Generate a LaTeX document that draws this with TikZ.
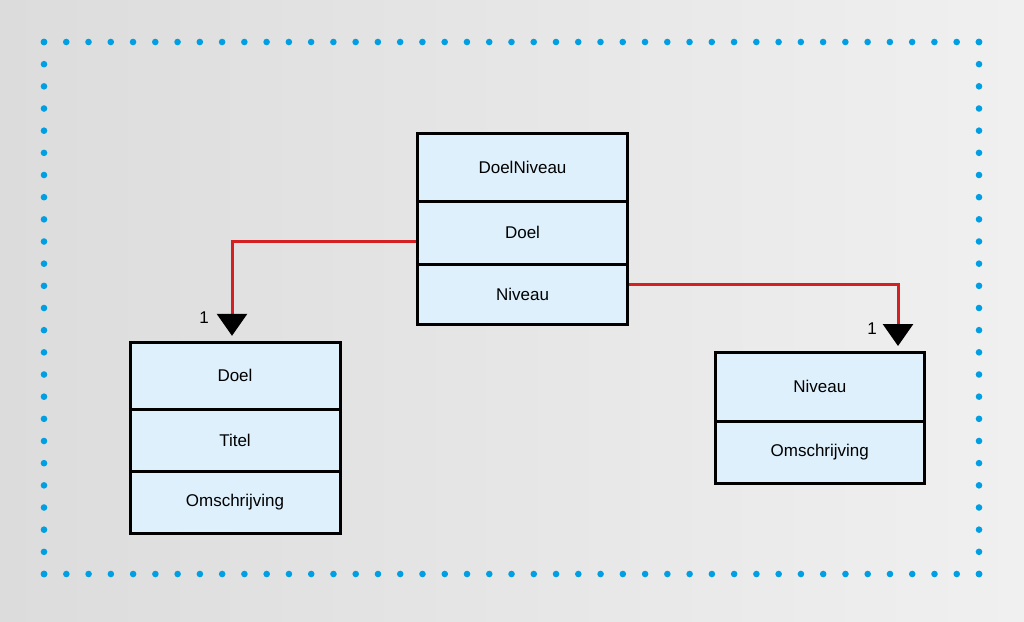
\documentclass[tikz,border=0pt]{standalone}
\usepackage{fontspec}
\setmainfont{Liberation Sans}
\usetikzlibrary{arrows.meta}
\definecolor{bgl}{RGB}{220,220,220}
\definecolor{bgr}{RGB}{240,240,240}
\definecolor{dotc}{RGB}{0,158,226}
\definecolor{rowfill}{RGB}{222,240,252}
\definecolor{linkred}{RGB}{212,32,32}
\begin{document}
\begin{tikzpicture}[x=1pt,y=-1pt,
  rowbox/.style={draw=black,line width=3pt,fill=rowfill,inner sep=0pt,
    minimum width=210pt,font=\fontsize{17}{19}\selectfont},
  conn/.style={draw=linkred,line width=3pt,
    -{Triangle[width=30pt,length=22pt,fill=black,color=black]},shorten >=5pt},
  lbl/.style={font=\fontsize{17}{19}\selectfont,inner sep=0pt},
  dotline/.style={draw=dotc,line width=6.6pt,line cap=round,dash pattern=on 0pt off 22.26pt}]
\useasboundingbox (0,0) rectangle (1024,621);
\shade[left color=bgl,right color=bgr] (0,0) rectangle (1024,621);
% dotted frame
\draw[dotline] (44,42) -- (979,42);
\draw[dotline,dash pattern=on 0pt off 22.166pt] (979,42) -- (979,574);
\draw[dotline] (979,574) -- (44,574);
\draw[dotline,dash pattern=on 0pt off 22.166pt] (44,574) -- (44,42);
% top box
\node[rowbox,minimum height=67.5pt] (t1) at (522.5,167.25) {DoelNiveau};
\node[rowbox,minimum height=63pt] (t2) at (522.5,232.5) {Doel};
\node[rowbox,minimum height=60pt] (t3) at (522.5,294) {Niveau};
% left box
\node[rowbox,minimum height=66.7pt] (l1) at (235,375.65) {Doel};
\node[rowbox,minimum height=62.7pt] (l2) at (235,440.35) {Titel};
\node[rowbox,minimum height=61.3pt] (l3) at (235,502.35) {Omschrijving};
% right box
\node[rowbox,minimum width=209.5pt,minimum height=68.5pt] (r1) at (819.75,386.75) {Niveau};
\node[rowbox,minimum width=209.5pt,minimum height=62pt] (r2) at (819.75,452) {Omschrijving};
% connectors
\coordinate (k1) at (232,241);
\coordinate (k2) at (898,284.5);
\draw[conn] (t2.west |- k1) -- (k1) -- (k1 |- l1.north);
\draw[conn] (t3.east |- k2) -- (k2) -- (k2 |- r1.north);
% multiplicities
\node[lbl] (m1) at (204,318) {1};
\node[lbl] (m2) at (872,329) {1};
\end{tikzpicture}
\end{document}
